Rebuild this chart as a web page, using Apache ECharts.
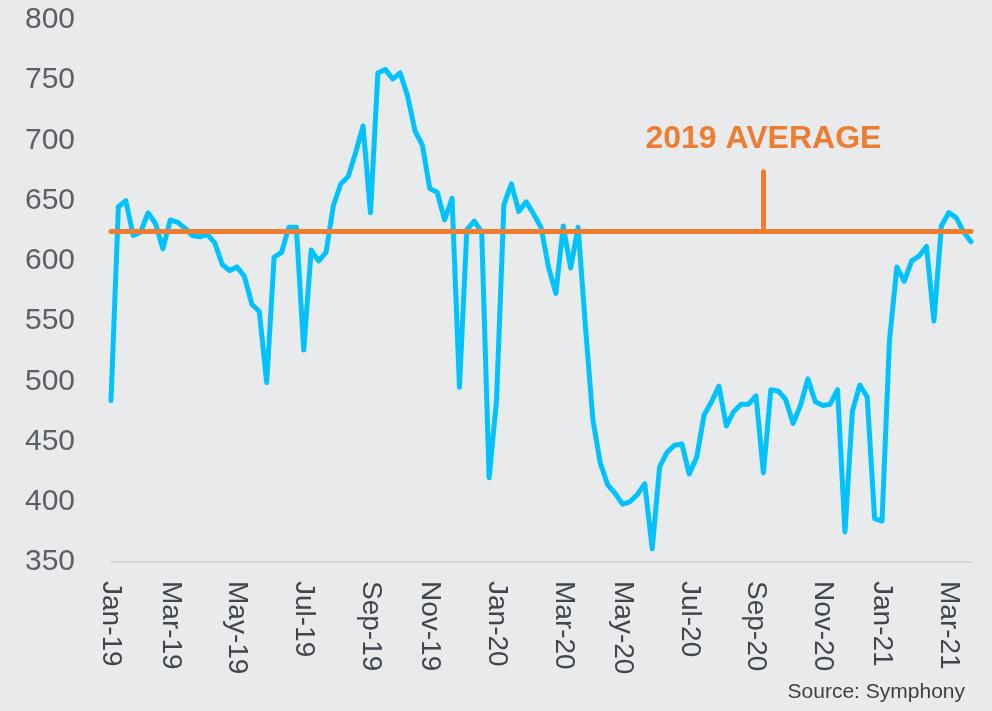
<!DOCTYPE html>
<html>
<head>
<meta charset="utf-8">
<script src="https://cdn.jsdelivr.net/npm/echarts/dist/echarts.min.js"></script>
<style>
  html, body { margin: 0; padding: 0; background: #e9eaec; }
  #chart { width: 992px; height: 711px; }
</style>
</head>
<body>
<div id="chart"></div>
<script>
// weekly series, first week Jan 4 2019
const firstWeek = '2019-01-04';
const weeklyValues = [
  484, 645, 650, 621, 624, 640, 631, 610, 634, 632, 627, 621, 620, 622, 615, 597,
  592, 595, 587, 564, 558, 499, 603, 607, 628, 628, 526, 609, 600, 607, 646, 664,
  670, 690, 712, 640, 756, 759, 751, 756, 737, 708, 696, 660, 657, 634, 652, 495,
  626, 633, 624, 420, 484, 647, 664, 641, 649, 639, 628, 595, 573, 629, 594, 628,
  545, 468, 432, 414, 407, 398, 400, 406, 415, 361, 429, 441, 447, 448, 423, 437,
  472, 483, 496, 463, 475, 481, 481, 488, 424, 493, 492, 485, 465, 480, 502, 483,
  480, 481, 493, 375, 475, 497, 487, 386, 384, 534, 595, 583, 600, 604, 612, 550,
  629, 640, 636, 624, 616
];
const average2019 = 625;
const averageLabel = '2019 AVERAGE';
const averageMarkWeek = 88;
const averageLabelValue = 701;
const averageTickTop = 674;
const monthNames = ['Jan', 'Feb', 'Mar', 'Apr', 'May', 'Jun', 'Jul', 'Aug', 'Sep', 'Oct', 'Nov', 'Dec'];

// week dates for the category axis
const weeks = [];
let d = new Date(firstWeek + 'T00:00:00Z');
for (let i = 0; i < weeklyValues.length; i++) {
  weeks.push(d.toISOString().slice(0, 10));
  d = new Date(d.getTime() + 7 * 86400000);
}

const monthLabel = (s) => monthNames[+s.slice(5, 7) - 1] + '-' + s.slice(2, 4);

const chart = echarts.init(document.getElementById('chart'));
chart.setOption({
  backgroundColor: '#e9eaec',
  animation: false,
  textStyle: { fontFamily: '"Liberation Sans", Arial, sans-serif' },
  title: {
    text: 'Source: Symphony',
    right: 22,
    bottom: 3,
    textStyle: { fontSize: 21, fontWeight: 'normal', color: '#3d3f42' }
  },
  grid: { left: 111, right: 21, top: 20, bottom: 149 },
  xAxis: {
    type: 'category',
    data: weeks,
    boundaryGap: false,
    axisLine: { lineStyle: { color: '#d4d6d9', width: 2 } },
    axisTick: { show: false },
    axisLabel: {
      rotate: -90,
      margin: 19,
      fontSize: 28,
      color: '#40464d',
      interval: (idx, val) => (+val.slice(5, 7)) % 2 === 1 && (+val.slice(8, 10)) <= 7,
      formatter: monthLabel
    }
  },
  yAxis: {
    type: 'value',
    min: 350,
    max: 800,
    interval: 50,
    axisLine: { show: false },
    axisTick: { show: false },
    splitLine: { show: false },
    axisLabel: { fontSize: 30, color: '#5b6067', margin: 36 }
  },
  series: [{
    type: 'line',
    data: weeklyValues,
    symbol: 'none',
    lineStyle: { color: '#00c2ff', width: 5, cap: 'round', join: 'round' },
    markLine: {
      silent: true,
      symbol: ['none', 'none'],
      label: { show: false },
      lineStyle: { color: '#ed7d31', width: 5, type: 'solid', cap: 'round' },
      data: [
        { yAxis: average2019 },
        [
          { coord: [weeks[averageMarkWeek], average2019] },
          { coord: [weeks[averageMarkWeek], averageTickTop] }
        ]
      ]
    },
    markPoint: {
      silent: true,
      symbol: 'rect',
      symbolSize: 1,
      itemStyle: { color: 'transparent' },
      label: {
        show: true,
        position: 'inside',
        formatter: averageLabel,
        fontSize: 32,
        fontWeight: 'bold',
        color: '#ed7d31'
      },
      data: [{ coord: [weeks[averageMarkWeek], averageLabelValue] }]
    }
  }]
});
</script>
</body>
</html>
